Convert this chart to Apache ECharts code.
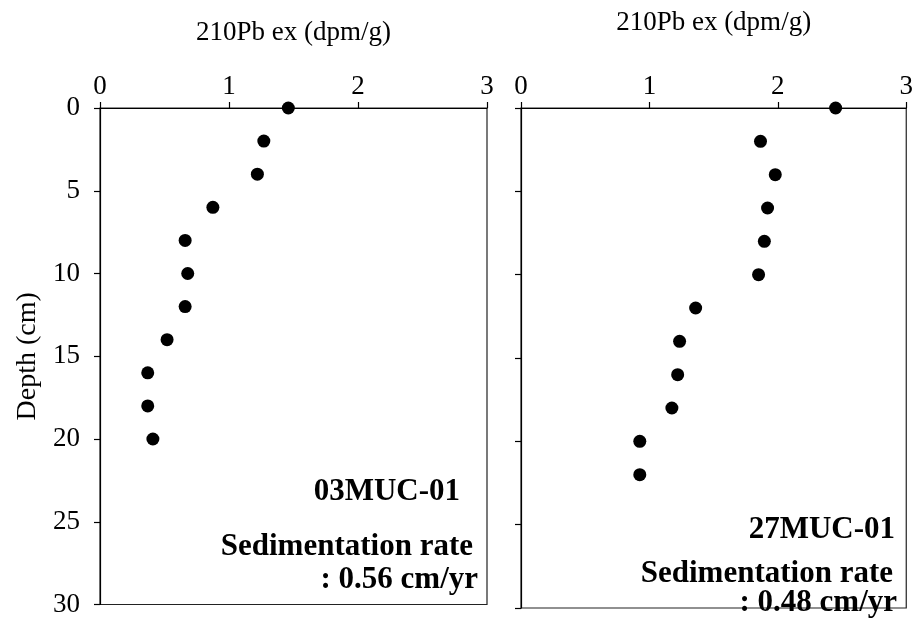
<!DOCTYPE html>
<html>
<head>
<meta charset="utf-8">
<script src="https://cdn.jsdelivr.net/npm/echarts@6/dist/echarts.min.js"></script>
<style>html,body{margin:0;padding:0;background:#fff}#c{width:916px;height:618px}</style>
</head>
<body>
<div id="c"></div>
<script>
// Depth (cm) for each core
const depthA = [0, 2, 4, 6, 8, 10, 12, 14, 16, 18, 20];
const pbA = [1.46, 1.27, 1.22, 0.875, 0.66, 0.68, 0.66, 0.52, 0.37, 0.37, 0.41];
const depthB = [0, 2, 4, 6, 8, 10, 12, 14, 16, 18, 20, 22];
const pbB = [2.45, 1.865, 1.98, 1.92, 1.895, 1.85, 1.36, 1.235, 1.22, 1.175, 0.925, 0.925];
const xTicks = [0, 1, 2, 3];
const yTicks = [0, 5, 10, 15, 20, 25, 30];
const xTitle = '210Pb ex (dpm/g)';
const yTitle = 'Depth (cm)';
const coreA = ['03MUC-01', 'Sedimentation rate', ': 0.56 cm/yr'];
const coreB = ['27MUC-01', 'Sedimentation rate', ': 0.48 cm/yr'];

const FONT = '"Liberation Serif", "Times New Roman", serif';
const chart = echarts.init(document.getElementById('c'));

function xAx(idx, gap) {
  return {
    gridIndex: idx, type: 'value', position: 'top',
    min: xTicks[0], max: xTicks[xTicks.length - 1], interval: 1,
    name: xTitle, nameLocation: 'middle', nameGap: gap,
    nameTextStyle: { fontFamily: FONT, fontSize: 27, color: '#000' },
    axisLine: { show: true, lineStyle: { color: '#000', width: 1.2 } },
    axisTick: { show: true, inside: false, length: 6, lineStyle: { color: '#000', width: 1.2 } },
    axisLabel: { show: true, margin: 8, fontFamily: FONT, fontSize: 27, color: '#000' },
    splitLine: { show: false }
  };
}
function yAx(idx, showLabel) {
  return {
    gridIndex: idx, type: 'value', inverse: true,
    min: yTicks[0], max: yTicks[yTicks.length - 1], interval: 5,
    name: showLabel ? yTitle : '', nameLocation: 'middle', nameGap: 58, nameRotate: 90,
    nameTextStyle: { fontFamily: FONT, fontSize: 28, color: '#000' },
    axisLine: { show: true, onZero: false, lineStyle: { color: '#000', width: 1.2 } },
    axisTick: { show: true, inside: false, length: 6, lineStyle: { color: '#000', width: 1.2 } },
    axisLabel: { show: showLabel, margin: 20, fontFamily: FONT, fontSize: 27, color: '#000' },
    splitLine: { show: false }
  };
}
function notes(lines, xr, ys) {
  return lines.map((t, i) => ({
    type: 'text', x: xr[i], y: ys[i],
    style: { text: t, align: 'right', verticalAlign: 'middle',
      font: 'bold 31px ' + FONT, fill: '#000' }
  }));
}

chart.setOption({
  animation: false,
  backgroundColor: '#fff',
  grid: [
    { left: 100, top: 108, width: 387, height: 500, show: true, borderColor: '#222', borderWidth: 1.2, backgroundColor: 'transparent' },
    { left: 521, top: 108, width: 386, height: 500, show: true, borderColor: '#222', borderWidth: 1.2, backgroundColor: 'transparent' }
  ],
  xAxis: [xAx(0, 62), xAx(1, 72)],
  yAxis: [yAx(0, true), yAx(1, false)],
  series: [
    { type: 'scatter', xAxisIndex: 0, yAxisIndex: 0, symbol: 'circle', symbolSize: 13,
      itemStyle: { color: '#000', opacity: 1 }, data: depthA.map((d, i) => [pbA[i], d]) },
    { type: 'scatter', xAxisIndex: 1, yAxisIndex: 1, symbol: 'circle', symbolSize: 13,
      itemStyle: { color: '#000', opacity: 1 }, data: depthB.map((d, i) => [pbB[i], d]) }
  ],
  graphic: notes(coreA, [460, 473, 478], [492, 547, 580])
    .concat(notes(coreB, [895, 893, 897], [530, 574, 603]))
});
</script>
</body>
</html>
